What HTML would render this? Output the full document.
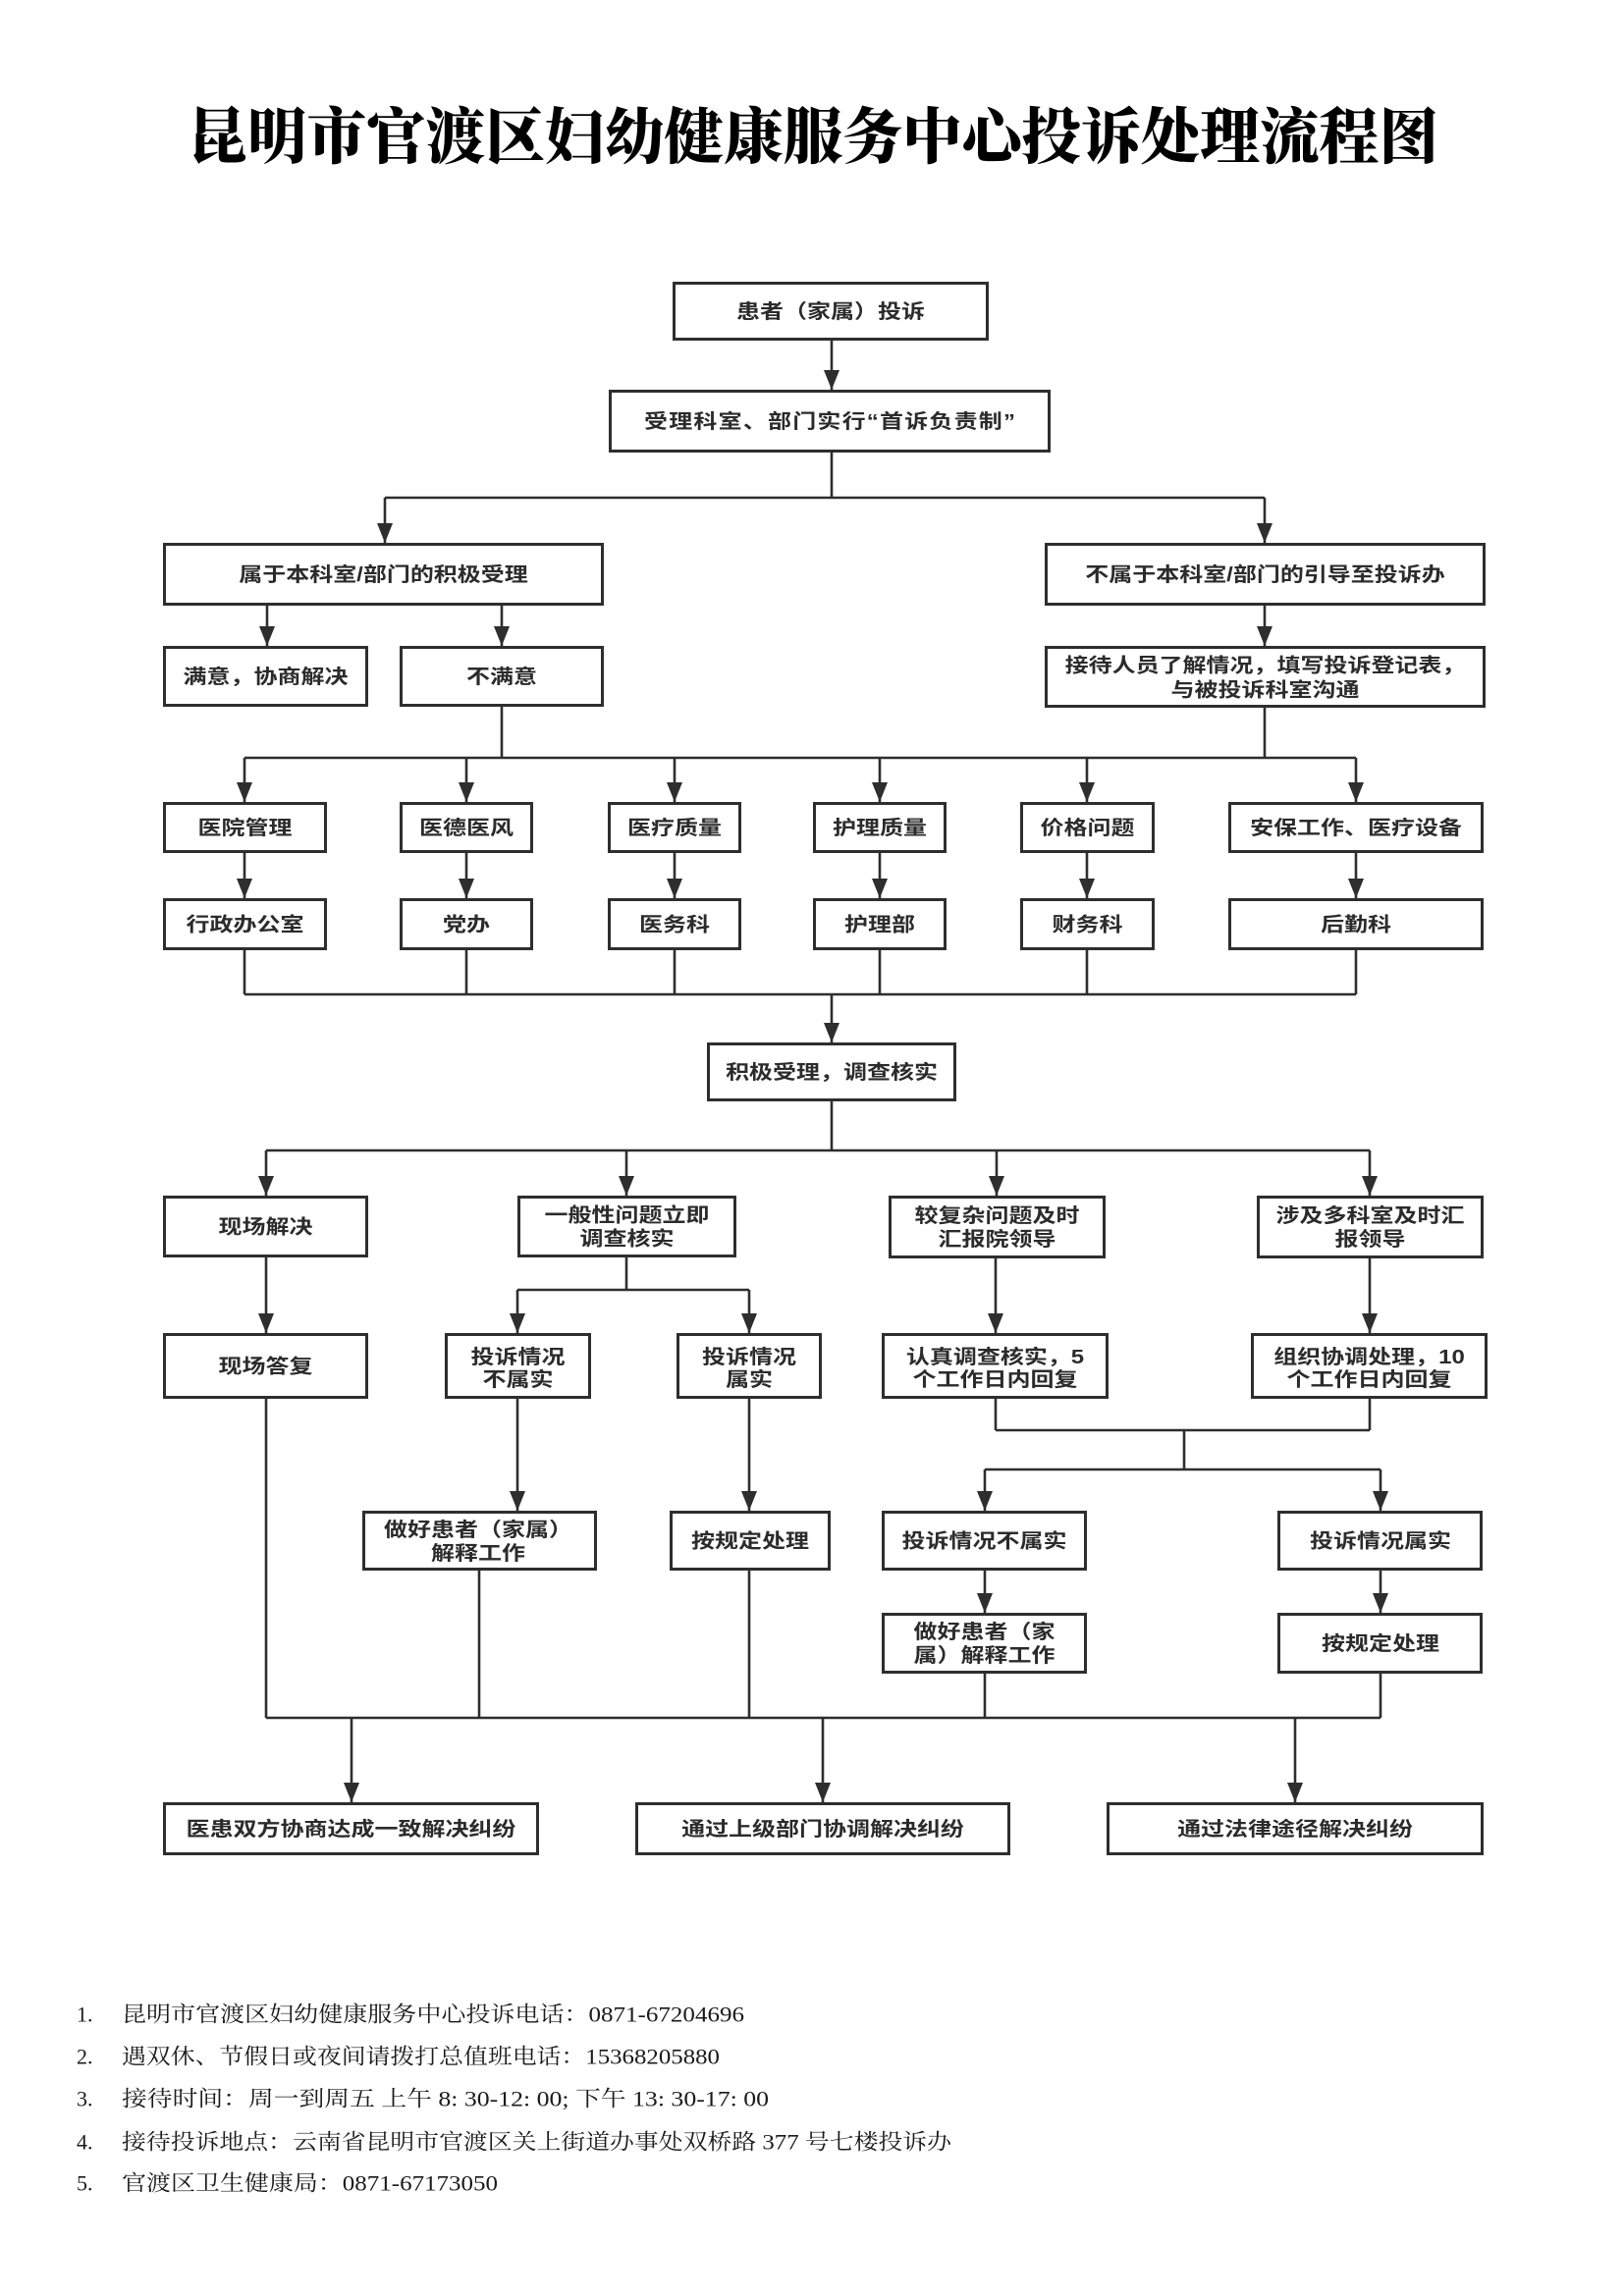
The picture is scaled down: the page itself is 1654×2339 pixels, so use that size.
<!DOCTYPE html>
<html lang="zh">
<head>
<meta charset="utf-8">
<title>昆明市官渡区妇幼健康服务中心投诉处理流程图</title>
<style>
  html,body{margin:0;padding:0;background:#fff;}
  body{width:1654px;height:2339px;overflow:hidden;}
  svg{display:block;}
  .bx{fill:#fff;stroke:#2e2e2e;stroke-width:3;}
  .ln{stroke:#2e2e2e;stroke-width:2.6;fill:none;}
  .ar{stroke:#2e2e2e;stroke-width:2.6;fill:none;marker-end:url(#ah);}
  .t{font-family:"Liberation Sans","Noto Sans CJK SC",sans-serif;font-weight:bold;font-size:20px;fill:#2b2b2b;text-anchor:middle;dominant-baseline:central;}
  .ti{font-family:"Liberation Serif","Noto Serif CJK SC",serif;font-weight:900;font-size:62px;fill:#000;dominant-baseline:central;}
  .f{font-family:"Liberation Serif","Noto Serif CJK SC",serif;font-size:22px;fill:#1a1a1a;dominant-baseline:central;}
</style>
</head>
<body>
<svg width="1654" height="2339" viewBox="0 0 1654 2339" xmlns="http://www.w3.org/2000/svg">
<defs>
  <marker id="ah" viewBox="0 0 20 16" refX="20" refY="8" markerWidth="20" markerHeight="16" markerUnits="userSpaceOnUse" orient="auto">
    <path d="M0,0 L20,8 L0,16 z" fill="#2e2e2e"/>
  </marker>
</defs>
<rect x="0" y="0" width="1654" height="2339" fill="#fff"/>

<!-- Title -->
<text class="ti" x="191" y="141" textLength="1274" lengthAdjust="spacingAndGlyphs">昆明市官渡区妇幼健康服务中心投诉处理流程图</text>

<!-- ========== Connectors ========== -->
<line class="ar" x1="847" y1="347" x2="847" y2="397"/>

<path class="ln" d="M847 461 V507 M392 507 H1288"/>
<line class="ar" x1="392" y1="507" x2="392" y2="553"/>
<line class="ar" x1="1288" y1="507" x2="1288" y2="553"/>

<line class="ar" x1="272" y1="617" x2="272" y2="658"/>
<line class="ar" x1="511" y1="617" x2="511" y2="658"/>
<line class="ar" x1="1288" y1="617" x2="1288" y2="658"/>

<path class="ln" d="M511 720 V772 M1288 721 V772 M249 772 H1381"/>
<line class="ar" x1="249" y1="772" x2="249" y2="817"/>
<line class="ar" x1="475" y1="772" x2="475" y2="817"/>
<line class="ar" x1="687" y1="772" x2="687" y2="817"/>
<line class="ar" x1="896" y1="772" x2="896" y2="817"/>
<line class="ar" x1="1107" y1="772" x2="1107" y2="817"/>
<line class="ar" x1="1381" y1="772" x2="1381" y2="817"/>

<line class="ar" x1="249" y1="869" x2="249" y2="915"/>
<line class="ar" x1="475" y1="869" x2="475" y2="915"/>
<line class="ar" x1="687" y1="869" x2="687" y2="915"/>
<line class="ar" x1="896" y1="869" x2="896" y2="915"/>
<line class="ar" x1="1107" y1="869" x2="1107" y2="915"/>
<line class="ar" x1="1381" y1="869" x2="1381" y2="915"/>

<path class="ln" d="M249 968 V1013 M475 968 V1013 M687 968 V1013 M896 968 V1013 M1107 968 V1013 M1381 968 V1013 M249 1013 H1381"/>
<line class="ar" x1="847" y1="1013" x2="847" y2="1062"/>

<path class="ln" d="M847 1122 V1172 M271 1172 H1395"/>
<line class="ar" x1="271" y1="1172" x2="271" y2="1218"/>
<line class="ar" x1="638" y1="1172" x2="638" y2="1218"/>
<line class="ar" x1="1015" y1="1172" x2="1015" y2="1218"/>
<line class="ar" x1="1395" y1="1172" x2="1395" y2="1218"/>

<line class="ar" x1="271" y1="1280" x2="271" y2="1358"/>
<path class="ln" d="M638 1280 V1314 M527 1314 H763"/>
<line class="ar" x1="527" y1="1314" x2="527" y2="1358"/>
<line class="ar" x1="763" y1="1314" x2="763" y2="1358"/>
<line class="ar" x1="1014" y1="1282" x2="1014" y2="1358"/>
<line class="ar" x1="1395" y1="1282" x2="1395" y2="1358"/>

<line class="ar" x1="527" y1="1424" x2="527" y2="1539"/>
<line class="ar" x1="763" y1="1424" x2="763" y2="1539"/>
<path class="ln" d="M1014 1425 V1457 M1395 1425 V1457 M1014 1457 H1395 M1206 1457 V1497 M1003 1497 H1406"/>
<line class="ar" x1="1003" y1="1497" x2="1003" y2="1539"/>
<line class="ar" x1="1406" y1="1497" x2="1406" y2="1539"/>
<line class="ar" x1="1003" y1="1600" x2="1003" y2="1643"/>
<line class="ar" x1="1406" y1="1600" x2="1406" y2="1643"/>

<path class="ln" d="M271 1425 V1750 M488 1600 V1750 M763 1600 V1750 M1003 1705 V1750 M1406 1705 V1750 M271 1750 H1406"/>
<line class="ar" x1="358" y1="1750" x2="358" y2="1836"/>
<line class="ar" x1="838" y1="1750" x2="838" y2="1836"/>
<line class="ar" x1="1319" y1="1750" x2="1319" y2="1836"/>

<!-- ========== Boxes ========== -->
<rect class="bx" x="686.5" y="288.5" width="319" height="57"/>
<g transform="translate(846,317) scale(1.2,1)"><text class="t" x="0" y="0">患者（家属）投诉</text></g>

<rect class="bx" x="621.5" y="398.5" width="447" height="61"/>
<g transform="translate(845,429) scale(1.2,1)"><text class="t" x="0" y="0" textLength="315" lengthAdjust="spacing">受理科室、部门实行“首诉负责制”</text></g>

<rect class="bx" x="167.5" y="554.5" width="446" height="61"/>
<g transform="translate(390.5,585) scale(1.2,1)"><text class="t" x="0" y="0">属于本科室/部门的积极受理</text></g>

<rect class="bx" x="1065.5" y="554.5" width="446" height="61"/>
<g transform="translate(1288.5,585) scale(1.2,1)"><text class="t" x="0" y="0">不属于本科室/部门的引导至投诉办</text></g>

<rect class="bx" x="167.5" y="659.5" width="206" height="59"/>
<g transform="translate(270.5,689) scale(1.2,1)"><text class="t" x="0" y="0">满意，协商解决</text></g>

<rect class="bx" x="408.5" y="659.5" width="205" height="59"/>
<g transform="translate(511,689) scale(1.2,1)"><text class="t" x="0" y="0">不满意</text></g>

<rect class="bx" x="1065.5" y="659.5" width="446" height="60"/>
<g transform="translate(1288.5,689.5) scale(1.2,1)"><text class="t" x="0" y="-12">接待人员了解情况，填写投诉登记表，</text><text class="t" x="0" y="13">与被投诉科室沟通</text></g>

<!-- Row 1 -->
<rect class="bx" x="167.5" y="818.5" width="164" height="49"/>
<g transform="translate(249.5,843) scale(1.2,1)"><text class="t" x="0" y="0">医院管理</text></g>
<rect class="bx" x="408.5" y="818.5" width="133" height="49"/>
<g transform="translate(475,843) scale(1.2,1)"><text class="t" x="0" y="0">医德医风</text></g>
<rect class="bx" x="620.5" y="818.5" width="133" height="49"/>
<g transform="translate(687,843) scale(1.2,1)"><text class="t" x="0" y="0">医疗质量</text></g>
<rect class="bx" x="829.5" y="818.5" width="133" height="49"/>
<g transform="translate(896,843) scale(1.2,1)"><text class="t" x="0" y="0">护理质量</text></g>
<rect class="bx" x="1040.5" y="818.5" width="134" height="49"/>
<g transform="translate(1107.5,843) scale(1.2,1)"><text class="t" x="0" y="0">价格问题</text></g>
<rect class="bx" x="1252.5" y="818.5" width="257" height="49"/>
<g transform="translate(1381,843) scale(1.2,1)"><text class="t" x="0" y="0">安保工作、医疗设备</text></g>

<!-- Row 2 -->
<rect class="bx" x="167.5" y="916.5" width="164" height="50"/>
<g transform="translate(249.5,941.5) scale(1.2,1)"><text class="t" x="0" y="0">行政办公室</text></g>
<rect class="bx" x="408.5" y="916.5" width="133" height="50"/>
<g transform="translate(475,941.5) scale(1.2,1)"><text class="t" x="0" y="0">党办</text></g>
<rect class="bx" x="620.5" y="916.5" width="133" height="50"/>
<g transform="translate(687,941.5) scale(1.2,1)"><text class="t" x="0" y="0">医务科</text></g>
<rect class="bx" x="829.5" y="916.5" width="133" height="50"/>
<g transform="translate(896,941.5) scale(1.2,1)"><text class="t" x="0" y="0">护理部</text></g>
<rect class="bx" x="1040.5" y="916.5" width="134" height="50"/>
<g transform="translate(1107.5,941.5) scale(1.2,1)"><text class="t" x="0" y="0">财务科</text></g>
<rect class="bx" x="1252.5" y="916.5" width="257" height="50"/>
<g transform="translate(1381,941.5) scale(1.2,1)"><text class="t" x="0" y="0">后勤科</text></g>

<rect class="bx" x="721.5" y="1063.5" width="251" height="57"/>
<g transform="translate(847,1092) scale(1.2,1)"><text class="t" x="0" y="0">积极受理，调查核实</text></g>

<!-- Row 3 -->
<rect class="bx" x="167.5" y="1219.5" width="206" height="60"/>
<g transform="translate(270.5,1249.5) scale(1.2,1)"><text class="t" x="0" y="0">现场解决</text></g>
<rect class="bx" x="528.5" y="1219.5" width="220" height="60"/>
<g transform="translate(638.5,1249.5) scale(1.2,1)"><text class="t" x="0" y="-12">一般性问题立即</text><text class="t" x="0" y="12">调查核实</text></g>
<rect class="bx" x="906.5" y="1219.5" width="218" height="61"/>
<g transform="translate(1015.5,1250) scale(1.2,1)"><text class="t" x="0" y="-12">较复杂问题及时</text><text class="t" x="0" y="12">汇报院领导</text></g>
<rect class="bx" x="1281.5" y="1219.5" width="228" height="61"/>
<g transform="translate(1395.5,1250) scale(1.2,1)"><text class="t" x="0" y="-12">涉及多科室及时汇</text><text class="t" x="0" y="12">报领导</text></g>

<!-- Row 4 -->
<rect class="bx" x="167.5" y="1359.5" width="206" height="64"/>
<g transform="translate(270.5,1391.5) scale(1.2,1)"><text class="t" x="0" y="0">现场答复</text></g>
<rect class="bx" x="454.5" y="1359.5" width="146" height="64"/>
<g transform="translate(527.5,1393) scale(1.2,1)"><text class="t" x="0" y="-11">投诉情况</text><text class="t" x="0" y="12">不属实</text></g>
<rect class="bx" x="690.5" y="1359.5" width="145" height="64"/>
<g transform="translate(763,1393) scale(1.2,1)"><text class="t" x="0" y="-11">投诉情况</text><text class="t" x="0" y="12">属实</text></g>
<rect class="bx" x="899.5" y="1359.5" width="228" height="64"/>
<g transform="translate(1013.5,1393) scale(1.2,1)"><text class="t" x="0" y="-11">认真调查核实，5</text><text class="t" x="0" y="12">个工作日内回复</text></g>
<rect class="bx" x="1275.5" y="1359.5" width="238" height="64"/>
<g transform="translate(1394.5,1393) scale(1.2,1)"><text class="t" x="0" y="-11">组织协调处理，10</text><text class="t" x="0" y="12">个工作日内回复</text></g>

<!-- Row 5 -->
<rect class="bx" x="370.5" y="1540.5" width="236" height="58"/>
<g transform="translate(487,1570) scale(1.2,1)"><text class="t" x="0" y="-12">做好患者（家属）</text><text class="t" x="0" y="12">解释工作</text></g>
<rect class="bx" x="683.5" y="1540.5" width="161" height="58"/>
<g transform="translate(764,1569.5) scale(1.2,1)"><text class="t" x="0" y="0">按规定处理</text></g>
<rect class="bx" x="899.5" y="1540.5" width="206" height="58"/>
<g transform="translate(1002.5,1569.5) scale(1.2,1)"><text class="t" x="0" y="0">投诉情况不属实</text></g>
<rect class="bx" x="1302.5" y="1540.5" width="206" height="58"/>
<g transform="translate(1406,1569.5) scale(1.2,1)"><text class="t" x="0" y="0">投诉情况属实</text></g>

<!-- Row 6 -->
<rect class="bx" x="899.5" y="1644.5" width="206" height="59"/>
<g transform="translate(1002.5,1674) scale(1.2,1)"><text class="t" x="0" y="-12">做好患者（家</text><text class="t" x="0" y="12">属）解释工作</text></g>
<rect class="bx" x="1302.5" y="1644.5" width="206" height="59"/>
<g transform="translate(1406,1674) scale(1.2,1)"><text class="t" x="0" y="0">按规定处理</text></g>

<!-- Row 7 -->
<rect class="bx" x="167.5" y="1837.5" width="380" height="51"/>
<g transform="translate(357.5,1863) scale(1.2,1)"><text class="t" x="0" y="0">医患双方协商达成一致解决纠纷</text></g>
<rect class="bx" x="648.5" y="1837.5" width="379" height="51"/>
<g transform="translate(838,1863) scale(1.2,1)"><text class="t" x="0" y="0">通过上级部门协调解决纠纷</text></g>
<rect class="bx" x="1128.5" y="1837.5" width="381" height="51"/>
<g transform="translate(1319,1863) scale(1.2,1)"><text class="t" x="0" y="0">通过法律途径解决纠纷</text></g>

<!-- ========== Footer notes ========== -->
<text class="f" x="78" y="2052">1.</text>
<text class="f" x="124" y="2052" textLength="634" lengthAdjust="spacingAndGlyphs">昆明市官渡区妇幼健康服务中心投诉电话：0871-67204696</text>
<text class="f" x="78" y="2095">2.</text>
<text class="f" x="124" y="2095" textLength="609" lengthAdjust="spacingAndGlyphs">遇双休、节假日或夜间请拨打总值班电话：15368205880</text>
<text class="f" x="78" y="2138">3.</text>
<text class="f" x="124" y="2138" textLength="659" lengthAdjust="spacingAndGlyphs">接待时间：周一到周五 上午 8: 30-12: 00; 下午 13: 30-17: 00</text>
<text class="f" x="78" y="2182">4.</text>
<text class="f" x="124" y="2182" textLength="845" lengthAdjust="spacingAndGlyphs">接待投诉地点：云南省昆明市官渡区关上街道办事处双桥路 377 号七楼投诉办</text>
<text class="f" x="78" y="2224">5.</text>
<text class="f" x="124" y="2224" textLength="383" lengthAdjust="spacingAndGlyphs">官渡区卫生健康局：0871-67173050</text>
</svg>
</body>
</html>
